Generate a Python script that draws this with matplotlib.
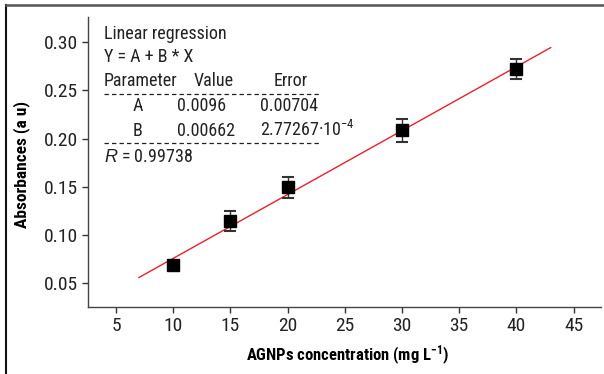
import numpy as np
import matplotlib
matplotlib.use("Agg")
import matplotlib.pyplot as plt
from matplotlib.lines import Line2D

# data
conc = [10, 15, 20, 30, 40]
absorb = [0.0687, 0.1143, 0.1496, 0.2087, 0.2720]
err = [0.003, 0.0104, 0.011, 0.012, 0.0104]

# regression parameters printed on the chart
fit_a = 0.0096
fit_b = 0.00662
fit_range = [7, 43]

xticks = [5, 10, 15, 20, 25, 30, 35, 40, 45]
yticks = [0.05, 0.10, 0.15, 0.20, 0.25, 0.30]

FONT = ["Roboto Condensed", "DejaVu Sans"]
plt.rcParams["font.family"] = FONT
plt.rcParams["mathtext.fontset"] = "custom"
plt.rcParams["mathtext.rm"] = "Roboto Condensed"
plt.rcParams["mathtext.it"] = "Liberation Sans:italic"
plt.rcParams["mathtext.bf"] = "Roboto Condensed:bold"

W, H = 604, 374
fig = plt.figure(figsize=(W / 100, H / 100), dpi=100)


def px(x, y):
    """pixel position (from top-left) -> figure fraction"""
    return x / W, 1 - y / H


ax = fig.add_axes([88 / W, 1 - 307 / H, (601 - 88) / W, (307 - 17) / H])

xfit = np.array(fit_range, dtype=float)
ax.plot(xfit, fit_a + fit_b * xfit, color="#e8202a", lw=1.0, zorder=2)
ax.errorbar(conc, absorb, yerr=err, fmt="s", color="black", ms=8,
            ecolor="#333333", elinewidth=1.0, capsize=4.5, capthick=1.5, zorder=3)

ax.set_xlim(2.55, 47.4)
ax.set_ylim(0.0254, 0.326)
ax.set_xticks(xticks)
ax.set_yticks(yticks)
ax.set_yticklabels([f"{v:.2f}" for v in yticks])
ax.tick_params(labelsize=14, length=4, width=1, color="#333333", labelcolor="#222222")
for s in ["top", "right"]:
    ax.spines[s].set_visible(False)
for s in ["left", "bottom"]:
    ax.spines[s].set_color("#444444")
    ax.spines[s].set_linewidth(1.0)

fig.text(*px(348, 361), r"AGNPs concentration (mg L$\mathbf{^{-1}}$)", fontsize=12,
         fontweight="bold", ha="center", va="baseline")
fig.text(*px(22, 165), "Absorbances (a u)", fontsize=12.5, fontweight="bold",
         rotation=90, ha="center", va="center")

# regression annotation (baselines in pixels)
tk = dict(fontsize=13, va="baseline", color="#222222")
fig.text(*px(104, 39), "Linear regression", ha="left", **tk)
fig.text(*px(104, 62), "Y = A + B * X", ha="left", **tk)
fig.text(*px(104, 86), "Parameter", ha="left", **tk)
fig.text(*px(214, 86), "Value", ha="center", **tk)
fig.text(*px(291, 86), "Error", ha="center", **tk)
fig.text(*px(138, 111), "A", ha="center", **tk)
fig.text(*px(177, 111), "0.0096", ha="left", **tk)
fig.text(*px(260, 111), "0.00704", ha="left", **tk)
fig.text(*px(138, 136), "B", ha="center", **tk)
fig.text(*px(177, 136), "0.00662", ha="left", **tk)
fig.text(*px(260, 136), "2.77267\u00b710$^{-4}$", ha="left", **tk)
fig.text(*px(104, 162), r"$R$ = 0.99738", ha="left", **tk)
for yy in [94, 143]:
    x0, y0 = px(104, yy)
    x1, _ = px(321, yy)
    fig.add_artist(Line2D([x0, x1], [y0, y0], color="#222222", lw=0.9,
                          ls=(0, (3.5, 2.5)), transform=fig.transFigure))

# outer frame (left and top edges)
fx0, fy0 = px(6, 5)
fig.add_artist(Line2D([fx0, fx0], [0, fy0], color="#111111", lw=1.5, transform=fig.transFigure))
fig.add_artist(Line2D([fx0, 1], [fy0, fy0], color="#555555", lw=1.8, transform=fig.transFigure))

fig.savefig("out.png", dpi=100)
